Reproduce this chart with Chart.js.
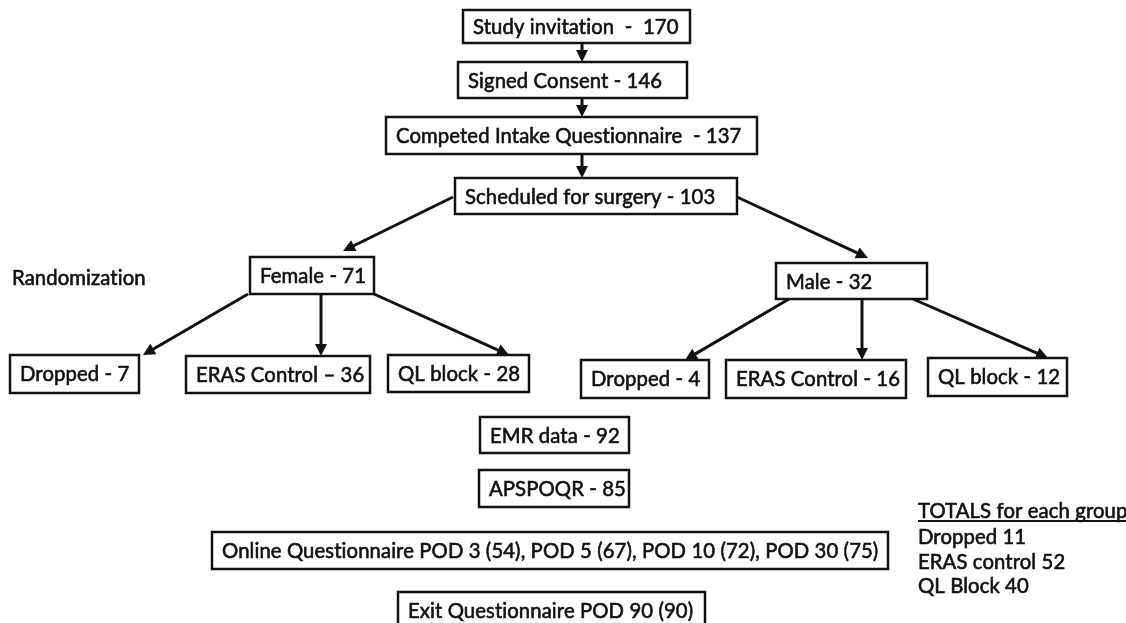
<!DOCTYPE html>
<html>
<head>
<meta charset="utf-8">
<script src="https://cdn.jsdelivr.net/npm/chart.js@4.4.1/dist/chart.umd.min.js"></script>
<style>
  html, body { margin: 0; padding: 0; background: #fff; }
  #wrap { width: 1126px; height: 623px; }
</style>
</head>
<body>
<div id="wrap"><canvas id="flow" width="1126" height="623"></canvas></div>
<script>
// ---- data ----
var stageNames = ["Study invitation", "Signed Consent", "Competed Intake Questionnaire", "Scheduled for surgery"];
var stageCounts = [170, 146, 137, 103];
var stageSeps = ["  -  ", " - ", "  - ", " - "];

var sexNames = ["Female", "Male"];
var sexCounts = [71, 32];

var armNames = ["Dropped", "ERAS Control", "QL block"];
var femaleArmCounts = [7, 36, 28];
var maleArmCounts = [4, 16, 12];
var femaleArmSeps = [" - ", " \u2013 ", " - "];

var sourceNames = ["EMR data", "APSPOQR"];
var sourceCounts = [92, 85];

var podDays = [3, 5, 10, 30];
var podCounts = [54, 67, 72, 75];
var exitDay = 90;
var exitCount = 90;

var totalNames = ["Dropped", "ERAS control", "QL Block"];
var totalCounts = [11, 52, 40];

// ---- layout (value space of the hidden scales: x 0..1126, y 0..623 top-down) ----
var stageBoxes = [[463, 10, 690, 43], [458, 62, 687, 98], [386, 117, 757, 154], [455, 178, 737, 214]];
var sexBoxes = [[250, 257, 374, 294], [776, 263, 927, 299]];
var femaleArmBoxes = [[10, 355, 139, 393], [186, 356, 370, 393], [388, 355, 529, 392]];
var maleArmBoxes = [[581, 360, 709, 398], [726, 360, 906, 398], [928, 358, 1067, 396]];
var sourceBoxes = [[480, 417, 629, 453], [479, 470, 629, 507]];
var podBox = [212, 532, 888, 569];
var exitBox = [398, 592, 705, 630];

var arrows = [
  [582, 43, 582, 62], [582, 98, 582, 117], [582, 154, 582, 178],
  [453, 197, 343, 251], [737, 197, 868, 258],
  [248, 294, 143, 355], [321, 294, 321, 356], [374, 294, 509, 355],
  [789, 299, 685, 360], [862, 299, 862, 360], [913, 299, 1048, 358]
];

var boxes = [];
stageNames.forEach(function (n, i) { boxes.push({ text: n + stageSeps[i] + stageCounts[i], r: stageBoxes[i] }); });
sexNames.forEach(function (n, i) { boxes.push({ text: n + " - " + sexCounts[i], r: sexBoxes[i] }); });
armNames.forEach(function (n, i) { boxes.push({ text: n + femaleArmSeps[i] + femaleArmCounts[i], r: femaleArmBoxes[i] }); });
armNames.forEach(function (n, i) { boxes.push({ text: n + " - " + maleArmCounts[i], r: maleArmBoxes[i] }); });
sourceNames.forEach(function (n, i) { boxes.push({ text: n + " - " + sourceCounts[i], r: sourceBoxes[i] }); });
boxes.push({
  text: "Online Questionnaire " + podDays.map(function (d, i) { return "POD " + d + " (" + podCounts[i] + ")"; }).join(", "),
  r: podBox
});
boxes.push({ text: "Exit Questionnaire POD " + exitDay + " (" + exitCount + ")", r: exitBox });

var FONT = "20.3px Lato, 'Open Sans', sans-serif";
var INK = "#111";

// slightly heavier text, like the blurred Calibri of the source
function label(ctx, s, x, y) {
  ctx.fillText(s, x, y);
  ctx.lineWidth = 0.6;
  ctx.strokeText(s, x, y);
}

var flowPlugin = {
  id: "flow",
  afterDatasetsDraw: function (chart) {
    var ctx = chart.ctx;
    var sx = chart.scales.x, sy = chart.scales.y;
    function px(v) { return sx.getPixelForValue(v); }
    function py(v) { return sy.getPixelForValue(v); }
    ctx.save();
    ctx.strokeStyle = INK;
    ctx.fillStyle = INK;
    ctx.font = FONT;
    ctx.letterSpacing = "0.1px"; // stops the "ti" ligature
    ctx.textBaseline = "middle";
    ctx.textAlign = "left";

    // boxes
    boxes.forEach(function (b) {
      var x0 = px(b.r[0]), y0 = py(b.r[1]), x1 = px(b.r[2]), y1 = py(b.r[3]);
      ctx.lineWidth = 2.5;
      ctx.strokeRect(x0, y0, x1 - x0, y1 - y0);
      var yc = py(Math.min((b.r[1] + b.r[3]) / 2, b.r[1] + 18));
      label(ctx, b.text, x0 + 10, yc + 1);
    });

    // arrows
    arrows.forEach(function (a) {
      var x0 = px(a[0]), y0 = py(a[1]), x1 = px(a[2]), y1 = py(a[3]);
      var ang = Math.atan2(y1 - y0, x1 - x0);
      var hl = 12, hw = 6;
      ctx.lineWidth = 3;
      ctx.beginPath();
      ctx.moveTo(x0, y0);
      ctx.lineTo(x1 - Math.cos(ang) * hl * 0.8, y1 - Math.sin(ang) * hl * 0.8);
      ctx.stroke();
      ctx.beginPath();
      ctx.moveTo(x1, y1);
      ctx.lineTo(x1 - Math.cos(ang) * hl - Math.sin(ang) * hw, y1 - Math.sin(ang) * hl + Math.cos(ang) * hw);
      ctx.lineTo(x1 - Math.cos(ang) * hl + Math.sin(ang) * hw, y1 - Math.sin(ang) * hl - Math.cos(ang) * hw);
      ctx.closePath();
      ctx.fill();
    });

    // side labels
    label(ctx, "Randomization", px(12), py(278));

    var tx = px(918);
    var head = "TOTALS for each group";
    label(ctx, head, tx, py(511));
    var w = ctx.measureText(head).width;
    ctx.lineWidth = 2;
    ctx.beginPath();
    ctx.moveTo(tx, py(521));
    ctx.lineTo(tx + w, py(521));
    ctx.stroke();
    var rowY = [537, 562, 586];
    totalNames.forEach(function (n, i) {
      label(ctx, n + " " + totalCounts[i], tx, py(rowY[i]));
    });
    ctx.restore();
  }
};

var nodePoints = boxes.map(function (b) {
  return { x: (b.r[0] + b.r[2]) / 2, y: (b.r[1] + b.r[3]) / 2 };
});

var chart = new Chart(document.getElementById("flow"), {
  type: "scatter",
  data: {
    datasets: [{
      label: "nodes",
      data: nodePoints,
      pointRadius: 0,
      pointHoverRadius: 0
    }]
  },
  options: {
    responsive: false,
    animation: false,
    events: [],
    layout: { padding: 0 },
    plugins: { legend: { display: false }, tooltip: { enabled: false } },
    scales: {
      x: { type: "linear", min: 0, max: 1126, display: false },
      y: { type: "linear", min: 0, max: 623, reverse: true, display: false }
    }
  },
  plugins: [flowPlugin]
});
</script>
</body>
</html>
